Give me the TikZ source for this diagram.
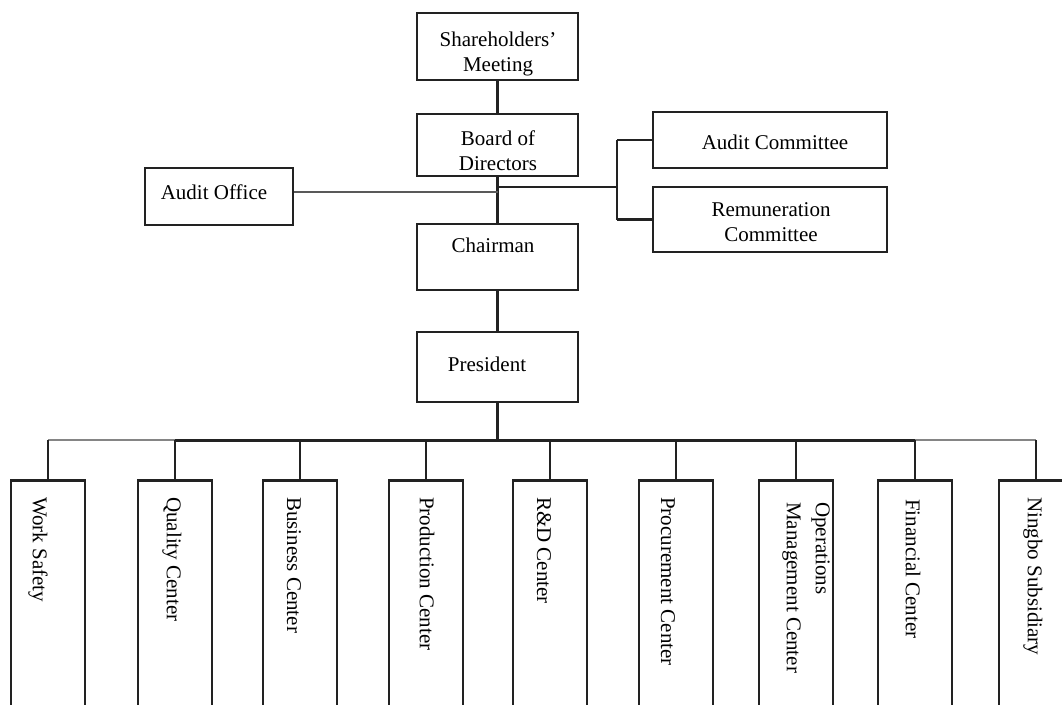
\documentclass[tikz,border=0pt]{standalone}
\usepackage{fontspec}
\setmainfont{Liberation Serif}
\definecolor{ln}{HTML}{222222}
\begin{document}
\begin{tikzpicture}[x=1pt,y=-1pt,
  box/.style={draw=ln,line width=2.6pt,rectangle,inner sep=0pt,fill=white},
  txt/.style={inner sep=0pt,align=center,font=\fontsize{21}{25}\selectfont},
  vtxt/.style={inner sep=0pt,align=left,rotate=-90,anchor=west,font=\fontsize{21}{29}\selectfont},
  conn/.style={draw=ln,line width=2.4pt},
  lightconn/.style={draw=ln!55,line width=2.4pt}]
\useasboundingbox (0,0) rectangle (1062,704);
\clip (0,0) rectangle (1062,704);
\fill[white] (0,0) rectangle (1062,704);

% top chain
\node[box,minimum width=161pt,minimum height=67pt] (sh) at (497.5,46.5) {};
\node[box,minimum width=161pt,minimum height=62pt] (bd) at (497.5,145) {};
\node[box,minimum width=161pt,minimum height=66pt] (ch) at (497.5,257) {};
\node[box,minimum width=161pt,minimum height=70pt] (pr) at (497.5,367) {};
\node[box,minimum width=148pt,minimum height=57pt] (ao) at (219,196.5) {};
\node[box,minimum width=234pt,minimum height=56pt] (ac) at (770,140) {};
\node[box,minimum width=234pt,minimum height=65pt] (rc) at (770,219.5) {};

\node[txt] (sht) at (498,54) {Shareholders’\\Meeting};
\node[txt] (bdt) at (498,151) {Board of\\Directors};
\node[txt] (cht) at (493,245) {Chairman};
\node[txt] (prt) at (487,364) {President};
\node[txt] (aot) at (214,192) {Audit Office};
\node[txt] (act) at (775,142) {Audit Committee};
\node[txt] (rct) at (771,222) {Remuneration\\Committee};

% spine
\coordinate (jao) at (497.5,192);
\coordinate (jr) at (497.5,187);
\coordinate (br) at (617,187);
\coordinate (bt) at (617,140);
\coordinate (bb) at (617,219.5);
\coordinate (bus) at (497.5,440);

\draw[conn] (sh.south) -- (bd.north);
\draw[conn] (bd.south) -- (ch.north);
\draw[conn] (ch.south) -- (pr.north);
\draw[lightconn,draw=ln!75] (jao -| ao.east) -- (jao);
\draw[conn] (jr) -- (br);
\draw[conn] (bt) -- (bb);
\draw[conn] (bt) -- (ac.west);
\draw[conn] (bb) -- (rc.west);
\draw[conn,line width=3.2pt] (pr.south) -- (bus);

% bottom departments
\foreach \n/\x in {ws/48,qc/175,bc/300,pc/426,rd/550,pu/676,om/796,fc/915,nb/1036}{
  \node[box,minimum width=74pt,minimum height=250pt,anchor=north] (\n) at (\x,479) {};
  \coordinate (b\n) at (\x,440);
}
\draw[lightconn] (bws) -- (bqc);
\draw[conn,line width=3pt] (bqc) -- (bfc);
\draw[lightconn] (bfc) -- (bnb);
\foreach \n in {ws,qc,bc,pc,rd,pu,om,fc,nb}{
  \draw[conn] (b\n) -- (\n.north);
}

\node[vtxt] (wst) at (38,497) {Work Safety};
\node[vtxt] (qct) at (172,497) {Quality Center};
\node[vtxt] (bct) at (294,497) {Business Center};
\node[vtxt] (pct) at (427,497) {Production Center};
\node[vtxt] (rdt) at (544,497) {R\&D Center};
\node[vtxt] (put) at (668,497) {Procurement Center};
\node[vtxt] (omt) at (806,502) {Operations\\Management Center};
\node[vtxt] (fct) at (913,499) {Financial Center};
\node[vtxt] (nbt) at (1033,497) {Ningbo Subsidiary};
\end{tikzpicture}
\end{document}
